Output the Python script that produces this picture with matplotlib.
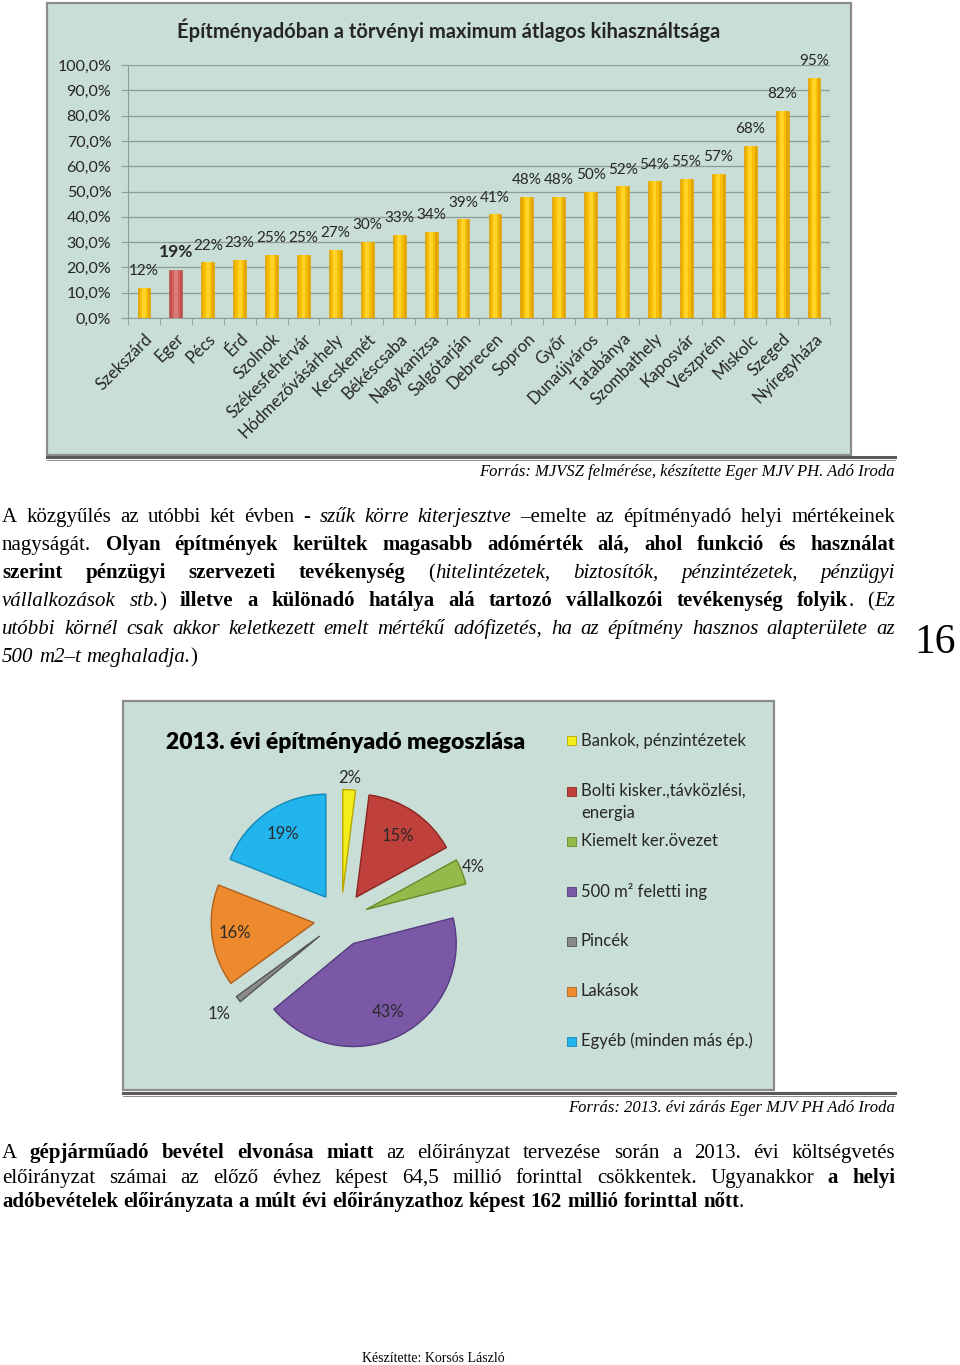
import numpy as np
import matplotlib.pyplot as plt
from matplotlib.patches import Rectangle
from matplotlib.lines import Line2D

W, H = 960, 1365

# bar chart data
cities = ['Szekszárd', 'Eger', 'Pécs', 'Érd', 'Szolnok', 'Székesfehérvár',
          'Hódmezővásárhely', 'Kecskemét', 'Békéscsaba', 'Nagykanizsa',
          'Salgótarján', 'Debrecen', 'Sopron', 'Győr', 'Dunaújváros',
          'Tatabánya', 'Szombathely', 'Kaposvár', 'Veszprém', 'Miskolc',
          'Szeged', 'Nyíregyháza']
utilization = [12, 19, 22, 23, 25, 25, 27, 30, 33, 34, 39, 41, 48, 48, 50,
               52, 54, 55, 57, 68, 82, 95]
highlight = 'Eger'
y_ticks = list(range(0, 101, 10))

# pie chart data
pie_labels = ['Bankok, pénzintézetek', 'Bolti kisker.,távközlési,\nenergia',
              'Kiemelt ker.övezet', '500 m² feletti ing', 'Pincék',
              'Lakások', 'Egyéb (minden más ép.)']
pie_shares = [2, 15, 4, 43, 1, 16, 19]
pie_colors = ['#F4EE1C', '#C0403C', '#95B94A', '#7B58A6', '#8A8A8A',
              '#EE8A2E', '#22B4EC']
pie_edges = ['#B8A800', '#8A2520', '#6A8A2A', '#553A80', '#555555',
             '#B0601A', '#1488B8']

BG = '#C9DED6'
CHART_FONT = 'Lato'
SERIF = 'Liberation Serif'
TXT = '#262626'

fig = plt.figure(figsize=(W / 100, H / 100), dpi=100)
fig.patch.set_facecolor('white')


def px_axes(x0, y0, x1, y1):
    return fig.add_axes([x0 / W, 1 - y1 / H, (x1 - x0) / W, (y1 - y0) / H])


def frame(x0, y0, x1, y1):
    fig.add_artist(Rectangle((x0 / W, 1 - y1 / H), (x1 - x0) / W, (y1 - y0) / H,
                             transform=fig.transFigure, facecolor=BG,
                             edgecolor='#8C8C8C', linewidth=1.6, zorder=-10))


def hline(x0, x1, y, lw, color):
    fig.add_artist(Line2D([x0 / W, x1 / W], [1 - y / H, 1 - y / H],
                          transform=fig.transFigure, color=color, linewidth=lw,
                          zorder=-5))


# ---------------- bar chart ----------------
frame(47, 3, 851, 455)
hline(47, 895, 457, 2.2, '#5A5A5A')
hline(47, 895, 459.5, 0.7, '#8A8A8A')

ax = px_axes(128, 65, 830, 318)
ax.set_facecolor('none')
x = np.arange(len(cities))
base = ['#C0504D' if c == highlight else '#E3A600' for c in cities]
mid = ['#CF6360' if c == highlight else '#F6BE00' for c in cities]
light = ['#DA7B78' if c == highlight else '#FFD426' for c in cities]
ax.bar(x, utilization, width=0.4, color=base, edgecolor=base, linewidth=0.5, zorder=3)
ax.bar(x, utilization, width=0.27, color=mid, linewidth=0, zorder=3)
ax.bar(x, utilization, width=0.12, color=light, linewidth=0, zorder=3)
for xi, v, c in zip(x, utilization, cities):
    if c == highlight:
        ax.annotate(f'{v}%', (xi, v), xytext=(0, 7), textcoords='offset points',
                    ha='center', va='bottom', fontsize=12.5, fontweight='bold',
                    family=CHART_FONT, color=TXT)
    else:
        ax.annotate(f'{v}%', (xi, v), xytext=(0, 7), textcoords='offset points',
                    ha='center', va='bottom', fontsize=11,
                    family=CHART_FONT, color=TXT)

ax.set_xlim(-0.5, len(cities) - 0.5)
ax.set_ylim(0, 100)
ax.set_yticks(y_ticks)
ax.set_yticklabels([f'{t},0%' for t in y_ticks], family=CHART_FONT,
                   fontsize=11.5, color=TXT)
ax.yaxis.grid(True, color='#8E9C97', linewidth=0.9, zorder=0)
ax.set_axisbelow(True)
ax.set_xticks(x)
ax.set_xticklabels(cities, rotation=45, ha='right', rotation_mode='anchor',
                   family=CHART_FONT, fontsize=12, color=TXT)
ax.set_xticks(np.arange(-0.5, len(cities)), minor=True)
ax.tick_params(axis='x', which='major', length=0, pad=9)
ax.tick_params(axis='x', which='minor', length=5, color='#8E9C97')
ax.tick_params(axis='y', length=5, color='#8E9C97', pad=7)
for s in ['top', 'right']:
    ax.spines[s].set_visible(False)
for s in ['left', 'bottom']:
    ax.spines[s].set_color('#8E9C97')
fig.text(449 / W, 1 - 30 / H, 'Építményadóban a törvényi maximum átlagos kihasználtsága',
         ha='center', va='center', fontsize=14.5, fontweight='bold',
         family=CHART_FONT, color=TXT)

# ---------------- body text ----------------
renderer = fig.canvas.get_renderer()
STYLES = {'n': ('normal', 'normal'), 'b': ('bold', 'normal'),
          'i': ('normal', 'italic'), 'bi': ('bold', 'italic')}


def text_line(runs, baseline, size, justify=True, x0=2, x1=895):
    words = []
    new = True
    for text, st in runs:
        parts = text.split(' ')
        for k, p in enumerate(parts):
            if k > 0:
                new = True
            if p == '':
                continue
            if new:
                words.append([])
                new = False
            words[-1].append((p, st))
    items = []
    total = 0
    for w in words:
        pieces = []
        for p, st in w:
            fw, fs = STYLES[st]
            t = fig.text(0, 1 - baseline / H, p, fontsize=size, family=SERIF,
                         fontweight=fw, fontstyle=fs, va='baseline', color='black')
            wd = t.get_window_extent(renderer).width
            pieces.append((t, wd))
            total += wd
        items.append(pieces)
    t1 = fig.text(0, 0, 'a a', fontsize=size, family=SERIF)
    t2 = fig.text(0, 0, 'aa', fontsize=size, family=SERIF)
    spw = t1.get_window_extent(renderer).width - t2.get_window_extent(renderer).width
    t1.remove()
    t2.remove()
    if justify and len(items) > 1:
        gap = (x1 - x0 - total) / (len(items) - 1)
    else:
        gap = spw
    xc = x0
    for pieces in items:
        for t, wd in pieces:
            t.set_x(xc / W)
            xc += wd
        xc += gap


BODY = 15
text_line([('A közgyűlés az utóbbi két évben - ', 'n'), ('szűk körre kiterjesztve', 'i'),
           (' –emelte az építményadó helyi mértékeinek', 'n')], 522, BODY)
text_line([('nagyságát. ', 'n'),
           ('Olyan építmények kerültek magasabb adómérték alá, ahol funkció és használat', 'b')],
          550, BODY)
text_line([('szerint pénzügyi szervezeti tevékenység', 'b'), (' (', 'n'),
           ('hitelintézetek, biztosítók, pénzintézetek, pénzügyi', 'i')], 578, BODY)
text_line([('vállalkozások stb.', 'i'), (')', 'n'),
           (' illetve a különadó hatálya alá tartozó vállalkozói tevékenység folyik', 'b'),
           ('. (', 'n'), ('Ez', 'i')], 606, BODY)
text_line([('utóbbi körnél csak akkor keletkezett emelt mértékű adófizetés, ha az építmény hasznos alapterülete az', 'i')],
          634, BODY)
text_line([('500 m2–t meghaladja.', 'i'), (')', 'n')], 662, BODY, justify=False)

text_line([('A ', 'n'), ('gépjárműadó bevétel elvonása miatt', 'b'),
           (' az előirányzat tervezése során a 2013. évi költségvetés', 'n')], 1158, BODY)
text_line([('előirányzat számai az előző évhez képest 64,5 millió forinttal csökkentek.  Ugyanakkor ', 'n'),
           ('a helyi', 'b')], 1183, BODY)
text_line([('adóbevételek előirányzata a múlt évi előirányzathoz képest 162 millió forinttal nőtt', 'b'),
           ('.', 'n')], 1207, BODY, justify=False)

fig.text(895 / W, 1 - 476 / H, 'Forrás: MJVSZ felmérése, készítette Eger MJV PH. Adó Iroda',
         ha='right', va='baseline', fontsize=12, family=SERIF, fontstyle='italic')
fig.text(895 / W, 1 - 1112 / H, 'Forrás: 2013. évi zárás Eger MJV PH Adó Iroda',
         ha='right', va='baseline', fontsize=12, family=SERIF, fontstyle='italic')
fig.text(935 / W, 1 - 643 / H, '16', ha='center', va='center', fontsize=30, family=SERIF)
fig.text(433 / W, 1 - 1359 / H, 'Készítette: Korsós László', ha='center', va='center',
         fontsize=10, family=SERIF)

# ---------------- pie chart ----------------
frame(123, 701, 774, 1090)
hline(123, 895, 1093, 2.2, '#5A5A5A')
hline(123, 895, 1095.5, 0.7, '#8A8A8A')

fig.text(166 / W, 1 - 743 / H, '2013. évi építményadó megoszlása', ha='left', va='center',
         fontsize=16.5, fontweight='heavy', family=CHART_FONT, color='black')

cx, cy, rpx = 341, 919.5, 103
bx0, by0, bx1, by1 = 180, 760, 510, 1090
pax = px_axes(bx0, by0, bx1, by1)
explode = 0.262
wedges, _ = pax.pie(pie_shares, colors=pie_colors, startangle=90, counterclock=False,
                    explode=[explode] * len(pie_shares),
                    wedgeprops=dict(linewidth=1.0))
for w, ec in zip(wedges, pie_edges):
    w.set_edgecolor(ec)
pax.set_aspect('auto')
pax.set_xlim((bx0 - cx) / rpx, (bx1 - cx) / rpx)
pax.set_ylim((cy - by1) / rpx, (cy - by0) / rpx)
pax.axis('off')

label_dist = [1.11, 0.72, 1.12, 0.75, 1.23, 0.78, 0.74]
cum = np.cumsum([0] + pie_shares)
for i, s in enumerate(pie_shares):
    ang = np.deg2rad(90 - 3.6 * (cum[i] + cum[i + 1]) / 2)
    d = explode + label_dist[i]
    pax.text(d * np.cos(ang), d * np.sin(ang), f'{s}%', ha='center', va='center',
             fontsize=12, family=CHART_FONT, color='#2A2A2A')

for i, (lab, col) in enumerate(zip(pie_labels, pie_colors)):
    yc = 741 + 50 * i
    fig.add_artist(Rectangle((567 / W, 1 - (yc + 4.5) / H), 9 / W, 9 / H,
                             transform=fig.transFigure, facecolor=col,
                             edgecolor=pie_edges[i], linewidth=0.6))
    for k, part in enumerate(lab.split('\n')):
        fig.text(581 / W, 1 - (yc + 22 * k) / H, part, ha='left', va='center',
                 fontsize=12, family=CHART_FONT, color=TXT)

fig.savefig('out.png', dpi=100, facecolor='white')
